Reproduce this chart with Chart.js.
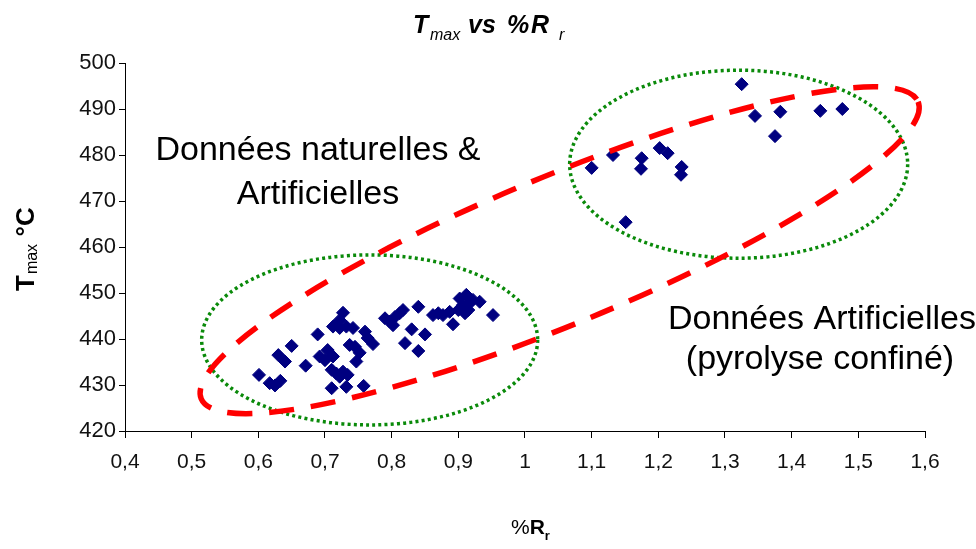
<!DOCTYPE html>
<html>
<head>
<meta charset="utf-8">
<script src="https://cdn.jsdelivr.net/npm/chart.js@4.4.1/dist/chart.umd.min.js"></script>
<style>
  html, body { margin: 0; padding: 0; background: #fff; }
</style>
</head>
<body>
<canvas id="chartTmaxCanvas" width="976" height="549"></canvas>
<script>
// tick labels
var xTicks = [0.4, 0.5, 0.6, 0.7, 0.8, 0.9, 1.0, 1.1, 1.2, 1.3, 1.4, 1.5, 1.6];
var yTicks = [420, 430, 440, 450, 460, 470, 480, 490, 500];

// données naturelles & artificielles (%Ro, Tmax)
var natRo = [0.601, 0.617, 0.625, 0.633, 0.630, 0.640, 0.650, 0.671, 0.689, 0.692,
             0.700, 0.704, 0.712, 0.710, 0.717, 0.722, 0.710, 0.732, 0.758, 0.727,
             0.722, 0.712, 0.722, 0.732, 0.742, 0.737, 0.745, 0.752, 0.760, 0.764,
             0.772, 0.747, 0.727, 0.734, 0.790, 0.797, 0.805, 0.812, 0.817, 0.802,
             0.840, 0.830, 0.850, 0.820, 0.840, 0.862, 0.870, 0.877, 0.887, 0.892,
             0.902, 0.912, 0.907, 0.917, 0.922, 0.932, 0.900, 0.910, 0.915, 0.952];
var natTmax = [432.2, 430.4, 429.9, 430.9, 436.5, 435.1, 438.5, 434.2, 441.0, 436.2,
               435.4, 437.6, 436.2, 433.3, 432.5, 431.8, 429.3, 429.6, 429.8, 445.7,
               444.1, 442.7, 442.4, 442.7, 442.4, 438.7, 438.3, 437.0, 441.6, 440.2,
               438.9, 435.1, 432.9, 432.2, 444.5, 443.8, 444.8, 445.6, 446.3, 443.0,
               447.0, 442.1, 441.0, 439.1, 437.4, 445.2, 445.6, 445.2, 445.9, 443.2,
               448.8, 449.6, 447.4, 447.8, 448.5, 448.1, 446.3, 445.6, 446.3, 445.2];

// données artificielles (pyrolyse confiné)
var artRo = [1.100, 1.132, 1.151, 1.174, 1.175, 1.202, 1.214, 1.234, 1.235,
             1.325, 1.345, 1.375, 1.383, 1.443, 1.476];
var artTmax = [477.2, 480.0, 465.4, 477.0, 479.3, 481.5, 480.4, 475.7, 477.4,
               495.4, 488.5, 484.1, 489.4, 489.6, 490.0];

function toPoints(xs, ys) {
    return xs.map(function(v, i) { return {x: v, y: ys[i]}; });
}

const FONT = '"Liberation Sans", Arial, sans-serif';

// ellipses and texts drawn on top like the Excel shapes
const annotations = {
    id: 'tmax_annotations',
    afterDatasetsDraw: (chart) => {
        const {ctx} = chart;
        const sx = chart.scales.x, sy = chart.scales.y;
        ctx.save();

        // green dotted ellipses
        ctx.strokeStyle = '#0a8a0a';
        ctx.lineWidth = 3.5;
        ctx.setLineDash([3, 3.2]);
        ctx.beginPath();
        ctx.ellipse(sx.getPixelForValue(0.767), sy.getPixelForValue(439.8), 168, 85, 0, 0, Math.PI * 2);
        ctx.stroke();
        ctx.beginPath();
        ctx.ellipse(sx.getPixelForValue(1.3205), sy.getPixelForValue(478.0), 169, 94, 0, 0, Math.PI * 2);
        ctx.stroke();

        // red dashed ellipse
        ctx.strokeStyle = '#ff0000';
        ctx.lineWidth = 5.5;
        ctx.setLineDash([25, 17]);
        ctx.beginPath();
        ctx.ellipse(sx.getPixelForValue(1.052), sy.getPixelForValue(459.3), 388, 74, -22.5 * Math.PI / 180, 0, Math.PI * 2);
        ctx.stroke();
        ctx.setLineDash([]);

        // texts
        ctx.fillStyle = '#000';
        ctx.textAlign = 'center';
        ctx.textBaseline = 'alphabetic';
        ctx.font = '34px ' + FONT;
        ctx.fillText('Données naturelles &', 318, 160);
        ctx.fillText('Artificielles', 318, 204);
        ctx.fillText('Données Artificielles', 822, 329);
        ctx.fillText('(pyrolyse confiné)', 820, 369);
        ctx.restore();
    },
    afterDraw: (chart) => {
        const {ctx} = chart;
        ctx.save();
        ctx.fillStyle = '#000';
        ctx.textBaseline = 'alphabetic';
        ctx.textAlign = 'left';

        // title  T max vs %R r
        ctx.font = 'italic bold 25px ' + FONT;
        ctx.fillText('T', 413, 33);
        ctx.font = 'italic 16px ' + FONT;
        ctx.fillText('max', 430, 40);
        ctx.font = 'italic bold 25px ' + FONT;
        ctx.fillText('vs', 468, 33);
        ctx.fillText('%', 507, 33);
        ctx.fillText('R', 531, 33);
        ctx.font = 'italic 16px ' + FONT;
        ctx.fillText('r', 559, 40);

        // y title  T max °C (rotated)
        ctx.translate(34, 291);
        ctx.rotate(-Math.PI / 2);
        ctx.font = 'bold 26px ' + FONT;
        ctx.fillText('T', 0, 0);
        var w = ctx.measureText('T').width;
        ctx.font = '16px ' + FONT;
        ctx.fillText('max', w + 1, 3);
        w += ctx.measureText('max ').width + 4;
        ctx.font = 'bold 26px ' + FONT;
        ctx.fillText('°C', w, 0);
        ctx.setTransform(1, 0, 0, 1, 0, 0);

        // x title  %R r
        ctx.font = '21px ' + FONT;
        ctx.fillText('%', 511, 534);
        var xw = 511 + ctx.measureText('%').width;
        ctx.font = 'bold 21px ' + FONT;
        ctx.fillText('R', xw, 534);
        xw += ctx.measureText('R').width;
        ctx.font = 'bold 13px ' + FONT;
        ctx.fillText('r', xw, 540);
        ctx.restore();
    }
};

const whiteBg = {
    id: 'custom_canvas_background_color',
    beforeDraw: (chart) => {
        const {ctx} = chart;
        ctx.save();
        ctx.globalCompositeOperation = 'destination-over';
        ctx.fillStyle = 'white';
        ctx.fillRect(0, 0, chart.width, chart.height);
        ctx.restore();
    }
};

var canvas = document.getElementById('chartTmaxCanvas');
var pointStyle = {
    pointStyle: 'rectRot',
    pointRadius: 6.5,
    pointBorderWidth: 1,
    backgroundColor: '#000080',
    borderColor: '#000080'
};

new Chart(canvas, {
    type: 'scatter',
    plugins: [whiteBg, annotations],
    data: {
        datasets: [
            Object.assign({label: 'naturelles & artificielles', data: toPoints(natRo, natTmax)}, pointStyle),
            Object.assign({label: 'pyrolyse confiné', data: toPoints(artRo, artTmax)}, pointStyle)
        ]
    },
    options: {
        responsive: false,
        maintainAspectRatio: false,
        animation: false,
        layout: { padding: { top: 63, right: 51, left: 0, bottom: 0 } },
        plugins: {
            legend: { display: false },
            title: { display: false },
            tooltip: { enabled: false }
        },
        scales: {
            x: {
                type: 'linear',
                min: 0.4,
                max: 1.6,
                afterBuildTicks: (scale) => { scale.ticks = xTicks.map(v => ({value: v})); },
                afterFit: (scale) => { scale.height = 118; },
                ticks: {
                    autoSkip: false,
                    maxRotation: 0,
                    padding: 12,
                    color: '#111',
                    font: { family: FONT, size: 21 },
                    callback: (v) => String(Math.round(v * 10) / 10).replace('.', ',')
                },
                grid: { drawOnChartArea: false, drawTicks: true, tickLength: 7, tickColor: '#000', lineWidth: 1 },
                border: { display: true, color: '#000', width: 1 }
            },
            y: {
                type: 'linear',
                min: 420,
                max: 500,
                afterBuildTicks: (scale) => { scale.ticks = yTicks.map(v => ({value: v})); },
                afterFit: (scale) => { scale.width = 125; },
                ticks: {
                    autoSkip: false,
                    padding: 3,
                    color: '#111',
                    font: { family: FONT, size: 22 },
                    callback: (v) => String(v)
                },
                grid: { drawOnChartArea: false, drawTicks: true, tickLength: 6, tickColor: '#000', lineWidth: 1 },
                border: { display: true, color: '#000', width: 1 }
            }
        }
    }
});
</script>
</body>
</html>
